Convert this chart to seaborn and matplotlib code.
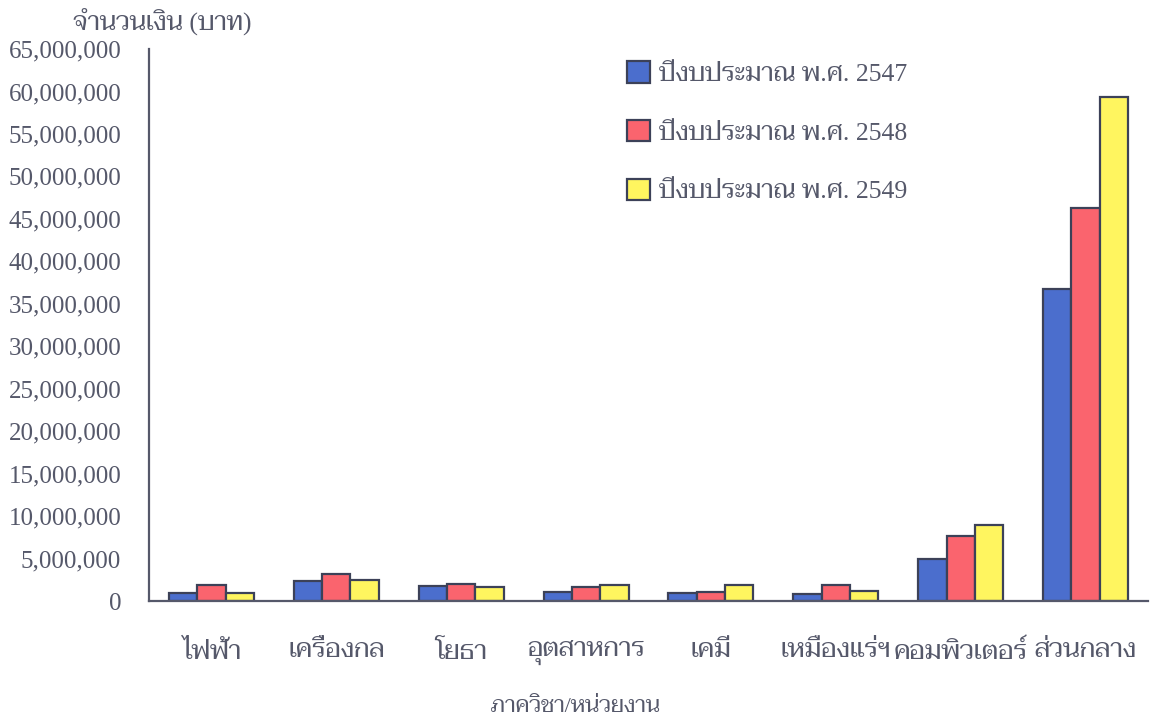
import numpy as np
import matplotlib
matplotlib.use("Agg")
import matplotlib.pyplot as plt
from matplotlib import font_manager
from matplotlib.ticker import FuncFormatter, FixedLocator
import pandas as pd
import seaborn as sns

# data (baht)
depts = ["ไฟฟ้า", "เครื่องกล", "โยธา", "อุตสาหการ", "เคมี", "เหมืองแร่ฯ", "คอมพิวเตอร์", "ส่วนกลาง"]
years = ["ปีงบประมาณ พ.ศ. 2547", "ปีงบประมาณ พ.ศ. 2548", "ปีงบประมาณ พ.ศ. 2549"]
budget_2547 = [1.0e6, 2.3e6, 1.8e6, 1.1e6, 0.95e6, 0.8e6, 4.9e6, 36.7e6]
budget_2548 = [1.9e6, 3.2e6, 2.05e6, 1.7e6, 1.05e6, 1.85e6, 7.6e6, 46.3e6]
budget_2549 = [1.0e6, 2.45e6, 1.65e6, 1.9e6, 1.9e6, 1.15e6, 8.95e6, 59.3e6]
yticks = np.arange(0, 65e6 + 1, 5e6)

df = pd.DataFrame({
    "dept": depts * 3,
    "year": [years[0]] * 8 + [years[1]] * 8 + [years[2]] * 8,
    "value": budget_2547 + budget_2548 + budget_2549,
})

# fonts: times-like latin + a thai serif for the thai glyphs
names = {f.name for f in font_manager.fontManager.ttflist}
thai = next((n for n in ["Norasi", "Taviraj", "Trirong", "Sarabun", "Loma"] if n in names), "DejaVu Sans")
latin = "Liberation Serif" if "Liberation Serif" in names else "DejaVu Serif"

sns.set_style("white")
plt.rcParams["font.family"] = [latin, thai]

ink = "#55586a"
edge = "#3c4158"
colors = ["#4b6ecd", "#fa646e", "#fff55f"]

fig = plt.figure(figsize=(11.57, 7.19), dpi=100)
ax = fig.add_axes([149 / 1157, 1 - 601 / 719, 999 / 1157, 552 / 719])

sns.barplot(data=df, x="dept", y="value", hue="year", order=depts, hue_order=years,
            palette=colors, saturation=1, width=0.68, edgecolor=edge, linewidth=1.6,
            errorbar=None, ax=ax)

ax.set_xlim(-0.5, 7.5)
ax.set_ylim(0, 65e6)
ax.set_yticks(yticks)
ax.yaxis.set_major_formatter(FuncFormatter(lambda v, p: f"{int(v):,}"))
ax.tick_params(axis="y", direction="out", length=6, width=1.6, color=ink,
               labelsize=18, labelcolor=ink, pad=14)

# category labels at centres, tick marks at the boundaries
ax.xaxis.set_minor_locator(FixedLocator(np.arange(-0.5, 8, 1)))
ax.tick_params(axis="x", which="major", length=0, labelsize=19, labelcolor=ink, pad=28)
ax.tick_params(axis="x", which="minor", direction="out", length=11, width=1.6, color=ink)

for s in ["top", "right"]:
    ax.spines[s].set_visible(False)
for s in ["left", "bottom"]:
    ax.spines[s].set_color(ink)
    ax.spines[s].set_linewidth(1.6)

ax.set_ylabel("")
ax.set_xlabel("ภาควิชา/หน่วยงาน", fontsize=16, color=ink)
ax.xaxis.set_label_coords(0.427, -0.176)
fig.text(162 / 1157, 1 - 22 / 719, "จำนวนเงิน (บาท)", ha="center", va="center",
         fontsize=18.5, color=ink)

leg = ax.legend(loc="upper left", bbox_to_anchor=(617 / 1157, 1 - 51 / 719),
                bbox_transform=fig.transFigure, frameon=False, fontsize=18.5,
                handlelength=0.9, handleheight=0.9, handletextpad=0.35,
                labelspacing=1.33, borderaxespad=0)
for t in leg.get_texts():
    t.set_color(ink)

fig.savefig("out.png", dpi=100)
